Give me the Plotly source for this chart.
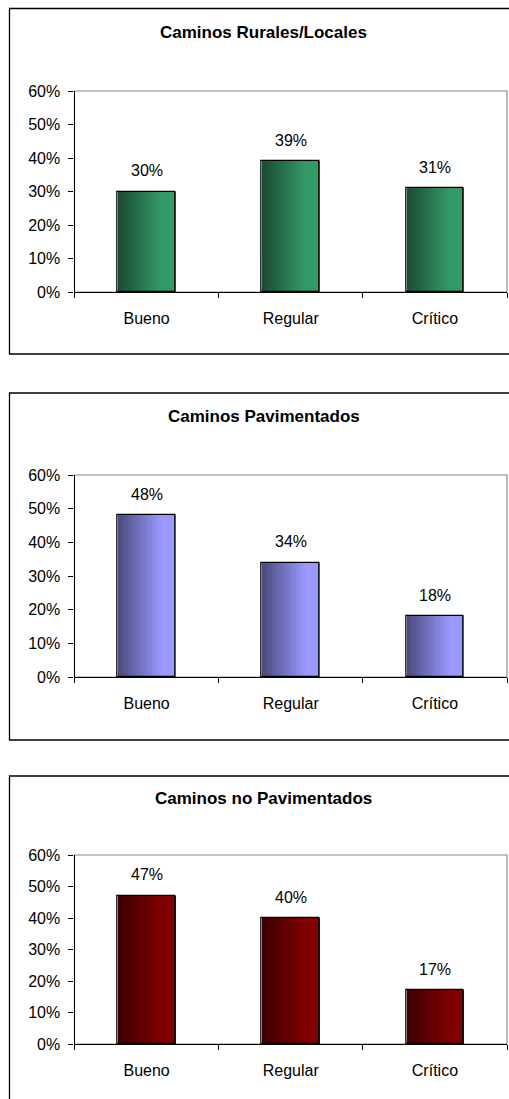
import plotly.graph_objects as go

# ---- data ----
categories = ["Bueno", "Regular", "Crítico"]
rurales = [30, 39, 31]
pavimentados = [48, 34, 18]
no_pavimentados = [47, 40, 17]
titles = ["Caminos Rurales/Locales", "Caminos Pavimentados", "Caminos no Pavimentados"]
tick_vals = [0, 10, 20, 30, 40, 50, 60]
tick_text = ["0%", "10%", "20%", "30%", "40%", "50%", "60%"]

W, H = 509, 1099
FONT = "Liberation Sans, Arial, sans-serif"

gradients = [("#1b4b33", "#339966"), ("#4a4a7e", "#9999ff"), ("#3c0000", "#800000")]
plots = [(91, 292), (475, 677), (855, 1044)]
boxes = [(8.5, 354), (393, 740), (776, 1110)]
title_y = [32, 416, 798]
x_left, x_right = 74.5, 507

def hex2rgb(h):
    h = h.lstrip("#")
    return tuple(int(h[i:i + 2], 16) for i in (0, 2, 4))

def mix(c1, c2, t):
    a, b = hex2rgb(c1), hex2rgb(c2)
    return "rgb(%d,%d,%d)" % tuple(round(a[i] + (b[i] - a[i]) * t) for i in range(3))

def py(p):
    return 1 - p / H

fig = go.Figure()
series = [rurales, pavimentados, no_pavimentados]
BW = 0.4
N = 24
shapes = []
annotations = []

for k, vals in enumerate(series):
    ax = "" if k == 0 else str(k + 1)
    xa, ya = "x" + ax, "y" + ax
    c0, c1 = gradients[k]
    for i in range(N):
        t = min(1.0, (i + 0.5) / N / 0.75)
        fig.add_trace(go.Bar(
            x=categories, y=vals, xaxis=xa, yaxis=ya,
            width=BW / N * 1.05, offset=-BW / 2 + i * BW / N,
            marker=dict(color=mix(c0, c1, t), line=dict(width=0)),
            showlegend=False, hoverinfo="skip"))
    fig.add_trace(go.Bar(
        x=categories, y=vals, xaxis=xa, yaxis=ya,
        width=BW, offset=-BW / 2,
        marker=dict(color="rgba(0,0,0,0)", line=dict(color="black", width=1.3)),
        showlegend=False,
        hovertemplate="%{x}: %{y}%<extra></extra>"))
    for c, v in zip(categories, vals):
        annotations.append(dict(
            x=c, y=v, xref=xa, yref=ya, text=f"{v}%", showarrow=False,
            yanchor="middle", yshift=21,
            font=dict(family=FONT, size=16, color="black")))
    top, bot = plots[k]
    lay_x = "xaxis" + ax
    lay_y = "yaxis" + ax
    fig.update_layout(**{
        lay_x: dict(
            domain=[x_left / W, x_right / W], anchor=ya, automargin=False,
            type="category", categoryorder="array", categoryarray=categories,
            range=[-0.5, 2.5], showline=True, linecolor="black", linewidth=1.2,
            ticks="outside", tickson="boundaries", ticklen=5, tickcolor="black",
            ticklabelstandoff=12, showgrid=False, zeroline=False,
            tickfont=dict(family=FONT, size=16, color="black"), fixedrange=True),
        lay_y: dict(
            domain=[py(bot), py(top)], anchor=xa, automargin=False,
            range=[0, 60], tickvals=tick_vals, ticktext=tick_text,
            showline=True, linecolor="black", linewidth=1.2,
            ticks="outside", ticklen=5, tickcolor="black",
            ticklabelstandoff=5, showgrid=False, zeroline=False,
            tickfont=dict(family=FONT, size=16, color="black"), fixedrange=True),
    })
    shapes.append(dict(type="rect", xref=xa + " domain", yref=ya + " domain",
                       x0=0, x1=1, y0=0, y1=1, line=dict(color="#8c8c8c", width=1.2),
                       layer="below"))
    b0, b1 = boxes[k]
    shapes.append(dict(type="rect", xref="paper", yref="paper",
                       x0=9.5 / W, x1=1.02, y0=py(b1), y1=py(b0),
                       line=dict(color="black", width=1.3), layer="below"))
    annotations.append(dict(
        x=0.518, y=py(title_y[k]), xref="paper", yref="paper",
        text="<b>" + titles[k] + "</b>", showarrow=False,
        xanchor="center", yanchor="middle",
        font=dict(family=FONT, size=17, color="black")))

fig.update_layout(
    width=W, height=H, margin=dict(l=0, r=0, t=0, b=0, pad=0),
    paper_bgcolor="white", plot_bgcolor="white",
    barmode="overlay", bargap=0, showlegend=False,
    shapes=shapes, annotations=annotations)

fig.write_html("out.html", config={"displayModeBar": False})
